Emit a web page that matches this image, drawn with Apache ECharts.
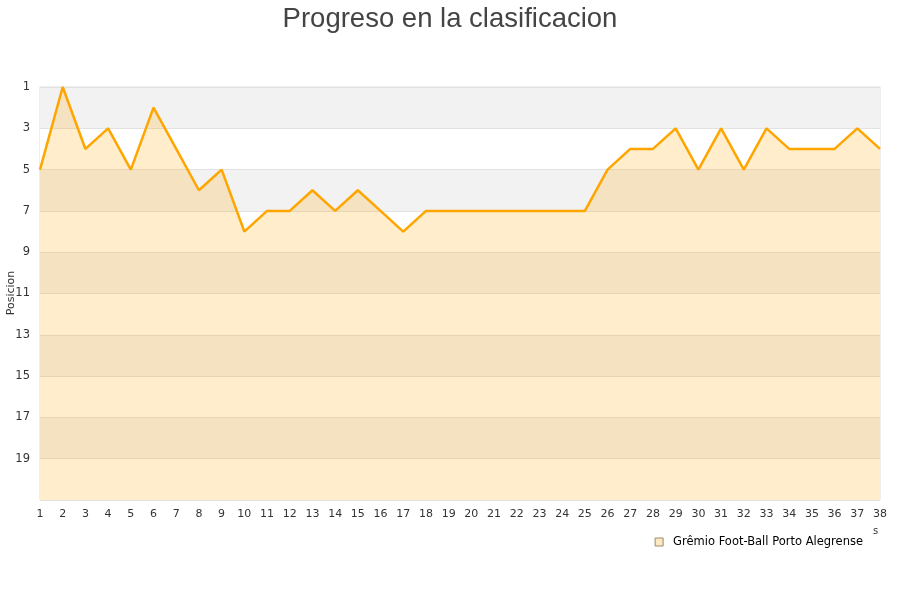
<!DOCTYPE html>
<html>
<head>
<meta charset="utf-8">
<script src="https://cdn.jsdelivr.net/npm/echarts@6/dist/echarts.min.js"></script>
<style>html,body{margin:0;padding:0;background:#fff;}#c{width:900px;height:600px;}</style>
</head>
<body>
<div id="c"></div>
<script>
const jornadas = ['1','2','3','4','5','6','7','8','9','10','11','12','13','14','15','16','17','18','19','20','21','22','23','24','25','26','27','28','29','30','31','32','33','34','35','36','37','38'];
const posiciones = [5,1,4,3,5,2,4,6,5,8,7,7,6,7,6,7,8,7,7,7,7,7,7,7,7,5,4,4,3,5,3,5,3,4,4,4,3,4];
const equipo = 'Grêmio Foot-Ball Porto Alegrense';
const titulo = 'Progreso en la clasificacion';
const ejeY = 'Posicion';

const chart = echarts.init(document.getElementById('c'));
chart.setOption({
  animation: false,
  backgroundColor: '#ffffff',
  title: {
    text: titulo, left: 'center', top: 0,
    textStyle: { fontFamily: 'Liberation Sans', fontSize: 27.5, fontWeight: 'normal', color: '#444444' }
  },
  legend: {
    right: 32, top: 531, itemWidth: 8, itemHeight: 8, itemGap: 6,
    icon: 'rect',
    textStyle: { fontFamily: 'DejaVu Sans', fontSize: 11.5, color: '#000', padding: [0, 0, 0, 5] },
    data: [{ name: equipo, itemStyle: { color: '#fde9c3', borderColor: '#9a8a6a', borderWidth: 1 } }]
  },
  graphic: [
    { type: 'text', left: 873, top: 526, style: { text: 's', fontFamily: 'DejaVu Sans', fontSize: 10, fill: '#333' } },
    { type: 'text', x: 11, y: 293, rotation: Math.PI / 2,
      style: { text: ejeY, fontFamily: 'DejaVu Sans', fontSize: 11, fill: '#333', align: 'center', verticalAlign: 'middle' } }
  ],
  grid: { left: 40, right: 20, top: 87, bottom: 100, show: true, borderColor: '#dddddd', borderWidth: 1, outerBoundsMode: 'none', containLabel: false },
  xAxis: {
    type: 'category', data: jornadas, boundaryGap: false,
    axisLine: { show: false }, axisTick: { show: false },
    axisLabel: { fontFamily: 'DejaVu Sans', fontSize: 11, color: '#333', margin: 9, interval: 0 },
    splitLine: { show: false }
  },
  yAxis: {
    type: 'value', inverse: true, min: 1, max: 21, interval: 2,
    axisLine: { show: false }, axisTick: { show: false },
    axisLabel: { fontFamily: 'DejaVu Sans', fontSize: 11.5, color: '#333', margin: 10,
      formatter: v => v >= 21 ? '' : String(v) },
    splitLine: { show: true, lineStyle: { color: '#e2e2e2', width: 1 } },
    splitArea: { show: true, areaStyle: { color: ['#f2f2f2', '#ffffff'] } }
  },
  series: [{
    name: equipo, type: 'line', data: posiciones,
    symbol: 'none', smooth: false,
    lineStyle: { color: '#FFA500', width: 2.5 },
    itemStyle: { color: '#FFA500' },
    areaStyle: { color: '#FFA500', opacity: 0.2, origin: 'end' }
  }]
});
</script>
</body>
</html>
